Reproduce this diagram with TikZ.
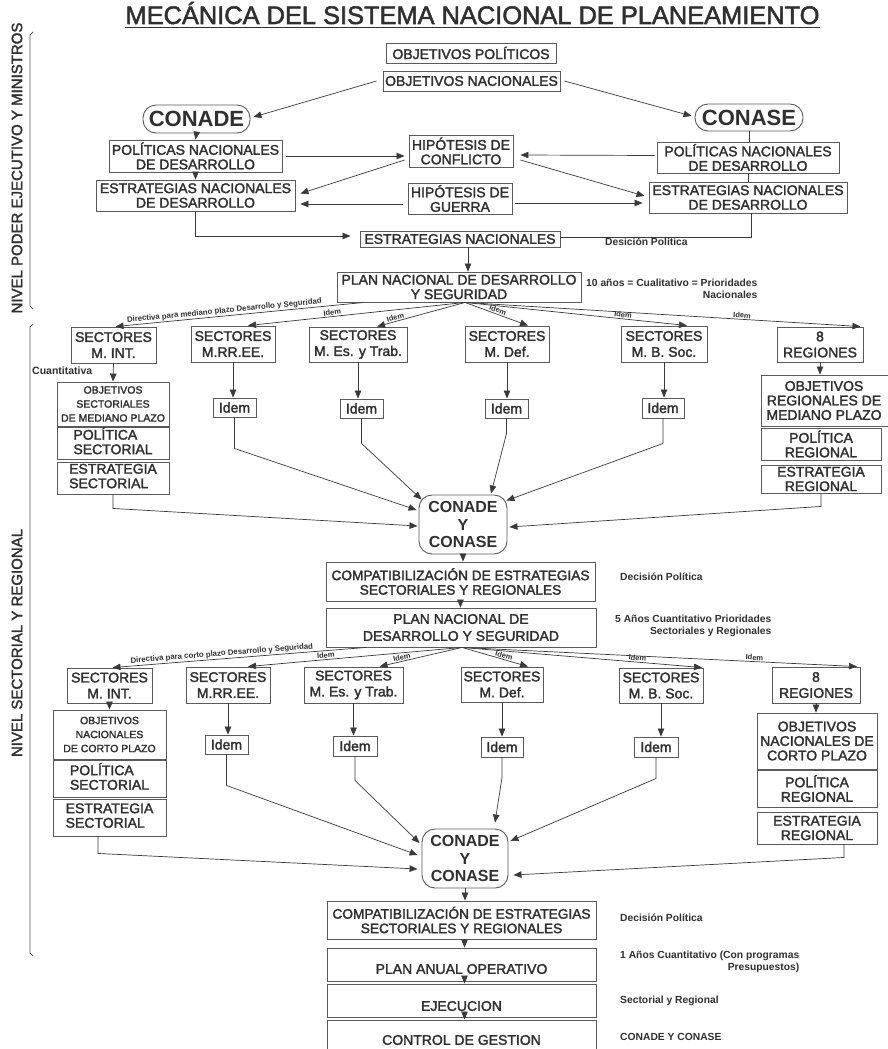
\documentclass[tikz,border=0pt]{standalone}
\usepackage{fontspec}
\setmainfont{Liberation Sans}
\newfontfamily\semib{Liberation Sans}[FakeBold=2]
\usetikzlibrary{arrows.meta,calc}
\definecolor{ink}{HTML}{303030}
\definecolor{edge}{HTML}{5a5a5a}
\definecolor{wire}{HTML}{3a3a3a}
\newcommand\fbx{\semib\fontsize{14}{14.5}\selectfont}
\newcommand\fsec{\semib\fontsize{14}{16}\selectfont}
\newcommand\fsm{\semib\fontsize{10.5}{14}\selectfont}
\newcommand\fcc{\fontsize{16}{17.5}\selectfont\bfseries}
\begin{document}
\begin{tikzpicture}[x=1pt,y=-1pt,
  box/.style={draw=edge, line width=0.9pt, inner sep=0pt, align=center, text=ink, font=\fbx},
  secbox/.style={box, font=\fsec},
  rbox/.style={box, rounded corners=13pt},
  sbox/.style={box, font=\fsm},
  lbl/.style={text=ink, font=\fbx, align=center, inner sep=0pt},
  wl/.style={draw=wire, line width=0.7pt},
  arr/.style={wl, -{Triangle[length=8pt,width=6.5pt]}},
  note/.style={text=ink, font=\fontsize{10.3}{12}\selectfont\bfseries, inner sep=0pt, anchor=west},
  idl/.style={text=ink, font=\fontsize{7.5}{8}\selectfont\bfseries, inner sep=1pt, sloped, above},
  dirl/.style={idl, font=\fontsize{7.8}{8}\selectfont\bfseries},
  lvl/.style={text=ink, font=\semib\fontsize{15}{15}\selectfont, rotate=90, inner sep=0pt},
]
\fill[white] (0,0) rectangle (887,1049);
\useasboundingbox (0,0) rectangle (887,1049);

% ---------- title and levels ----------
\node[text=ink, font=\semib\fontsize{25.4}{25.4}\selectfont, inner sep=0pt, anchor=base] (title) at (472.5,24) {MECÁNICA DEL SISTEMA NACIONAL DE PLANEAMIENTO};
\draw[draw=ink, line width=1.6pt] ([yshift=-3pt]title.south west) -- ([yshift=-3pt]title.south east);
\node[lvl] (lvlA) at (17,168) {NIVEL PODER EJECUTIVO Y MINISTROS};
\node[lvl] (lvlB) at (17,643) {NIVEL SECTORIAL Y REGIONAL};
\draw[edge, line width=0.9pt] (33,32) -- (30,35) -- (30,306) -- (33,309);
\draw[edge, line width=0.9pt] (33,324) -- (30,327) -- (30,953) -- (33,956);

% ---------- top level ----------
\node[box, minimum width=170pt, minimum height=20pt] (objpol) at (471,53) {OBJETIVOS POLÍTICOS};
\node[box, minimum width=177pt, minimum height=20pt] (objnac) at (471.5,81) {OBJETIVOS NACIONALES};
\node[rbox, font=\fontsize{22}{22}\selectfont\bfseries, minimum width=107pt, minimum height=28pt] (conade) at (196.5,119) {CONADE};
\node[rbox, font=\fontsize{22}{22}\selectfont\bfseries, minimum width=108pt, minimum height=27pt] (conase) at (749,117.5) {CONASE};
\node[box, minimum width=173pt, minimum height=32pt] (polL) at (195.5,156) {POLÍTICAS NACIONALES\\DE DESARROLLO};
\node[box, minimum width=199pt, minimum height=31pt] (estL) at (195.5,195.5) {ESTRATEGIAS NACIONALES\\DE DESARROLLO};
\node[box, minimum width=104pt, minimum height=32pt] (hipC) at (461,151) {HIPÓTESIS DE\\CONFLICTO};
\node[box, minimum width=104pt, minimum height=31pt] (hipG) at (460,198.5) {HIPÓTESIS DE\\GUERRA};
\node[box, minimum width=182pt, minimum height=31pt] (polR) at (748,157.5) {POLÍTICAS NACIONALES\\DE DESARROLLO};
\node[box, minimum width=198pt, minimum height=31pt] (estR) at (748,197.5) {ESTRATEGIAS NACIONALES\\DE DESARROLLO};
\node[box, minimum width=200pt, minimum height=16pt] (estN) at (460,239) {ESTRATEGIAS NACIONALES};
\node[note] (dp0) at (605,242) {Desición Política};
\node[box, minimum width=244pt, minimum height=30pt] (plan1) at (459,287) {PLAN NACIONAL DE DESARROLLO\\Y SEGURIDAD};
\node[note, align=right] (nt1) at (586,289) {10 años = Cualitativo = Prioridades\\Nacionales};

\draw[arr] ([xshift=-6pt]objnac.west) -- ([xshift=3pt,yshift=2pt]conade.east);
\draw[arr] ([xshift=4pt]objnac.east) -- ([xshift=-3pt,yshift=1.5pt]conase.west);
\draw[arr] (conade.south) -- (polL.north);
\draw[arr] (polL.south) -- (estL.north);
\draw[wl] (conase.south) -- (conase.south |- polR.north);
\draw[wl] (polR.south) -- (polR.south |- estR.north);
\draw[arr] ([xshift=4pt]polL.east) -- ([xshift=-4pt]hipC.west |- polL.east);
\draw[arr] ([xshift=-2pt,yshift=2pt]polR.west) -- ([xshift=7pt,yshift=-4pt]hipC.east);
\draw[arr] ([xshift=-4pt,yshift=-9pt]hipC.west) -- ([xshift=5pt,yshift=2pt]estL.east);
\draw[arr] ([xshift=7pt,yshift=-9pt]hipC.east) -- ([xshift=-4pt,yshift=1.5pt]estR.west);
\draw[arr] ([xshift=-5pt,yshift=-5.5pt]hipG.west) -- ([xshift=5pt,yshift=-8.5pt]estL.east);
\draw[arr] ([xshift=3pt,yshift=-4.5pt]hipG.east) -- ([xshift=-6pt,yshift=-5.5pt]estR.west);
\draw[arr] (estL.south) |- ([xshift=-9pt,yshift=3pt]estN.west);
\draw[wl] ([xshift=3pt]estR.south) |- ([yshift=2pt]estN.east);
\draw[arr] ([xshift=8pt]estN.south) -- ([xshift=8pt]estN.south |- plan1.north);

% ---------- first sector row ----------
\node[secbox, minimum width=85pt, minimum height=36pt] (mint1) at (113.5,345) {SECTORES\\M. INT.};
\node[secbox, minimum width=84pt, minimum height=36pt] (mrree1) at (233,344) {SECTORES\\M.RR.EE.};
\node[secbox, minimum width=98pt, minimum height=35pt] (mes1) at (358,344.5) {SECTORES\\M. Es. y Trab.};
\node[secbox, minimum width=84pt, minimum height=36pt] (mdef1) at (507,344) {SECTORES\\M. Def.};
\node[secbox, minimum width=86pt, minimum height=36pt] (mbsoc1) at (664,344) {SECTORES\\M. B. Soc.};
\node[secbox, minimum width=86pt, minimum height=35pt] (reg1) at (820,344.5) {8\\REGIONES};

\draw[arr] ([xshift=-95pt]plan1.south) -- node[dirl, pos=0.56]{Directiva para mediano plazo Desarrollo y Seguridad} ([xshift=2pt]mint1.north);
\draw[arr] ([xshift=6pt]plan1.south) -- node[idl, pos=0.61]{Idem} ([xshift=15pt]mrree1.north);
\draw[arr] ([xshift=6pt]plan1.south) -- node[idl, pos=0.78]{Idem} ([xshift=19pt]mes1.north);
\draw[arr] ([xshift=6pt]plan1.south) -- node[idl, pos=0.5]{Idem} ([xshift=21pt]mdef1.north);
\draw[arr] ([xshift=6pt]plan1.south) -- node[idl, pos=0.71]{Idem} ([xshift=23pt]mbsoc1.north);
\draw[arr] ([xshift=6pt]plan1.south) -- node[idl, pos=0.70]{Idem} ([xshift=-3pt]reg1.north east);

\node[note, font=\fontsize{10.5}{12}\selectfont\bfseries] (cuant) at (32,371) {Cuantitativa};
\node[sbox, minimum width=112pt, minimum height=44pt] (objS1) at (113,404) {OBJETIVOS\\SECTORIALES\\DE MEDIANO PLAZO};
\node[box, minimum width=112pt, minimum height=32pt] (polS1) at (113,443) {\begin{tabular}{@{}l@{}}POLÍTICA\\SECTORIAL\end{tabular}};
\node[box, minimum width=112pt, minimum height=32pt] (estS1) at (113,478) {\begin{tabular}{@{}l@{}}ESTRATEGIA\\SECTORIAL\end{tabular}};
\node[box, minimum width=43pt, minimum height=19pt] (idem1a) at (234.5,407.5) {Idem};
\node[box, minimum width=43pt, minimum height=19pt] (idem1b) at (361.5,408.5) {Idem};
\node[box, minimum width=43pt, minimum height=19pt] (idem1c) at (506.5,408.5) {Idem};
\node[box, minimum width=42pt, minimum height=20pt] (idem1d) at (663,408) {Idem};
\node[box, minimum width=134pt, minimum height=51pt, label={[lbl, xshift=-4pt]center:OBJETIVOS\\REGIONALES DE\\MEDIANO PLAZO}] (objR1) at (828,400.5) {};
\node[box, minimum width=120pt, minimum height=32pt] (polR1) at (821,444) {POLÍTICA\\REGIONAL};
\node[box, minimum width=120pt, minimum height=28pt] (estR1) at (821,479) {ESTRATEGIA\\REGIONAL};

\draw[arr] (mint1.south) -- (objS1.north);
\draw[arr] (mrree1.south) -- (mrree1.south |- idem1a.north);
\draw[arr] (mes1.south) -- (mes1.south |- idem1b.north);
\draw[arr] (mdef1.south) -- (mdef1.south |- idem1c.north);
\draw[arr] (mbsoc1.south) -- (mbsoc1.south |- idem1d.north);
\draw[arr] (reg1.south) -- (reg1.south |- objR1.north);

\node[rbox, font=\fcc, minimum width=88pt, minimum height=59pt] (cyc1) at (463,524.5) {CONADE\\Y\\CONASE};
\draw[arr] (estS1.south) -- ++(0,14) -- ([xshift=-1pt,yshift=-1.5pt]cyc1.west);
\draw[arr] (idem1a.south) -- ++(0,31) -- ([xshift=-2pt,yshift=14.5pt]cyc1.west);
\draw[arr] (idem1b.south) -- ++(0,25) -- ([xshift=3pt,yshift=-5pt]cyc1.north west);
\draw[arr] (idem1c.south) -- ++(0,15) -- ([xshift=28pt,yshift=1pt]cyc1.north);
\draw[arr] (idem1d.south) -- ++(0,25) -- ([xshift=-1pt,yshift=-6pt]cyc1.north east);
\draw[arr] (estR1.south) -- ++(0,13) -- ([xshift=2pt,yshift=-2.5pt]cyc1.east);

\node[box, font=\semib\fontsize{13.7}{14.5}\selectfont, minimum width=269pt, minimum height=39pt] (comp1) at (460.5,581.5) {COMPATIBILIZACIÓN DE ESTRATEGIAS\\SECTORIALES Y REGIONALES};
\node[note] (dp1) at (620,577) {Decisión Política};
\node[box, font=\semib\fontsize{14}{17}\selectfont, minimum width=270pt, minimum height=39pt] (plan2) at (461,627.5) {PLAN NACIONAL DE\\DESARROLLO Y SEGURIDAD};
\node[note, align=right] (nt2) at (615,626) {5 Años Cuantitativo Prioridades\\Sectoriales y Regionales};
\draw[arr] (cyc1.south) -- (cyc1.south |- comp1.north);
\draw[arr] (comp1.south) -- (comp1.south |- plan2.north);

% ---------- second sector row ----------
\node[secbox, minimum width=85pt, minimum height=35pt] (mint2) at (109.5,685.5) {SECTORES\\M. INT.};
\node[secbox, minimum width=84pt, minimum height=36pt] (mrree2) at (228,685) {SECTORES\\M.RR.EE.};
\node[secbox, minimum width=99pt, minimum height=36pt] (mes2) at (353.5,685) {SECTORES\\M. Es. y Trab.};
\node[secbox, minimum width=82pt, minimum height=35pt] (mdef2) at (502,684.5) {SECTORES\\M. Def.};
\node[secbox, minimum width=84pt, minimum height=35pt] (mbsoc2) at (661,685.5) {SECTORES\\M. B. Soc.};
\node[secbox, minimum width=88pt, minimum height=36pt] (reg2) at (816,685) {8\\REGIONES};

\draw[arr] ([xshift=-95pt]plan2.south) -- node[dirl, pos=0.567]{Directiva para corto plazo Desarrollo y Seguridad} ([xshift=3pt]mint2.north);
\draw[arr] ([xshift=1pt]plan2.south) -- node[idl, pos=0.635]{Idem} ([xshift=20pt]mrree2.north);
\draw[arr] ([xshift=1pt]plan2.south) -- node[idl, pos=0.72]{Idem} ([xshift=26pt]mes2.north);
\draw[arr] ([xshift=1pt]plan2.south) -- node[idl, pos=0.62]{Idem} ([xshift=26pt]mdef2.north);
\draw[arr] ([xshift=1pt]plan2.south) -- node[idl, pos=0.73]{Idem} ([xshift=41pt]mbsoc2.north);
\draw[arr] ([xshift=1pt]plan2.south) -- node[idl, pos=0.74]{Idem} ([xshift=41pt]reg2.north);

\node[sbox, minimum width=113pt, minimum height=49pt] (objS2) at (109.5,734.5) {OBJETIVOS\\NACIONALES\\DE CORTO PLAZO};
\node[box, minimum width=113pt, minimum height=37pt] (polS2) at (109.5,778.5) {\begin{tabular}{@{}l@{}}POLÍTICA\\SECTORIAL\end{tabular}};
\node[box, minimum width=113pt, minimum height=37pt] (estS2) at (109.5,817.5) {\begin{tabular}{@{}l@{}}ESTRATEGIA\\SECTORIAL\end{tabular}};
\node[box, minimum width=43pt, minimum height=19pt] (idem2a) at (226.5,744.5) {Idem};
\node[box, minimum width=44pt, minimum height=20pt] (idem2b) at (355,746) {Idem};
\node[box, minimum width=42pt, minimum height=20pt] (idem2c) at (502,747) {Idem};
\node[box, minimum width=44pt, minimum height=20pt] (idem2d) at (656,747) {Idem};
\node[box, minimum width=120pt, minimum height=56pt] (objR2) at (817,741) {OBJETIVOS\\NACIONALES DE\\CORTO PLAZO};
\node[box, minimum width=120pt, minimum height=37pt] (polR2) at (817,788.5) {POLÍTICA\\REGIONAL};
\node[box, minimum width=120pt, minimum height=32pt] (estR2) at (817,828) {ESTRATEGIA\\REGIONAL};

\draw[arr] (mint2.south) -- (objS2.north);
\draw[arr] (mrree2.south) -- (mrree2.south |- idem2a.north);
\draw[arr] (mes2.south) -- (mes2.south |- idem2b.north);
\draw[arr] (mdef2.south) -- (mdef2.south |- idem2c.north);
\draw[arr] (mbsoc2.south) -- (mbsoc2.south |- idem2d.north);
\draw[arr] (reg2.south) -- (reg2.south |- objR2.north);

\node[rbox, font=\fcc, minimum width=86pt, minimum height=59pt] (cyc2) at (465,858.5) {CONADE\\Y\\CONASE};
\draw[arr] ([xshift=-11.5pt]estS2.south) -- ++(0,17) -- ([xshift=-4pt,yshift=-10.5pt]cyc2.west);
\draw[arr] (idem2a.south) -- ++(0,31) -- ([xshift=-4pt,yshift=3.5pt]cyc2.west);
\draw[arr] (idem2b.south) -- ++(0,24) -- ([xshift=-2pt,yshift=15.5pt]cyc2.west);
\draw[arr] (idem2c.south) -- ++(0,20) -- ([xshift=30pt,yshift=6pt]cyc2.north);
\draw[arr] (idem2d.south) -- ++(0,21) -- ([xshift=2pt,yshift=17.5pt]cyc2.east);
\draw[arr] ([xshift=27pt]estR2.south) -- ++(0,13) -- ([xshift=5pt,yshift=-16.5pt]cyc2.east);

% ---------- bottom chain ----------
\node[box, font=\semib\fontsize{13.7}{14.5}\selectfont, minimum width=269pt, minimum height=38pt] (comp2) at (461.5,920) {COMPATIBILIZACIÓN DE ESTRATEGIAS\\SECTORIALES Y REGIONALES};
\node[note] (dp2) at (620,918) {Decisión Política};
\node[box, minimum width=269pt, minimum height=33pt, label={[lbl, yshift=-4.5pt]center:PLAN ANUAL OPERATIVO}] (planop) at (461.5,964.5) {};
\node[note, align=right] (nt3) at (620,962) {1 Años Cuantitativo (Con programas\\Presupuestos)};
\node[box, minimum width=269pt, minimum height=33pt, label={[lbl, yshift=-5.5pt]center:EJECUCION}] (ejec) at (461.5,1000.5) {};
\node[note] (nt4) at (620,1001) {Sectorial y Regional};
\node[box, minimum width=269pt, minimum height=40pt] (ctrl) at (461.5,1040) {CONTROL DE GESTION};
\node[note] (nt5) at (620,1037) {CONADE Y CONASE};

\draw[arr] (cyc2.south) -- (cyc2.south |- comp2.north);
\draw[arr] ([xshift=3pt]comp2.south) -- ([xshift=3pt]comp2.south |- planop.north);
\draw[arr] ([xshift=3pt]planop.south) -- ([xshift=3pt]planop.south |- ejec.north);
\draw[arr] ([xshift=3pt]ejec.south) -- ([xshift=3pt]ejec.south |- ctrl.north);
\end{tikzpicture}
\end{document}
